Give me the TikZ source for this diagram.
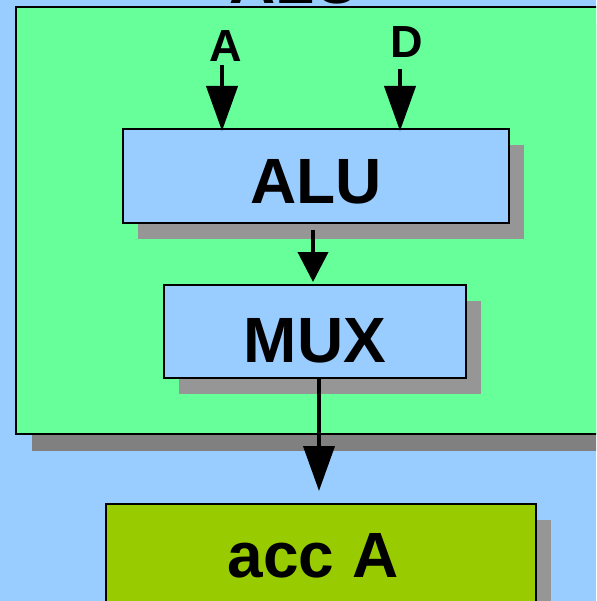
\documentclass[tikz,border=0pt]{standalone}
\usepackage{fontspec}
\setmainfont{Liberation Sans}
\usetikzlibrary{arrows.meta,shadows}
\definecolor{bgblue}{HTML}{99CCFF}
\definecolor{grpgreen}{HTML}{66FF99}
\definecolor{accgreen}{HTML}{99CC00}
\definecolor{shadowA}{HTML}{969696}
\definecolor{shadowB}{HTML}{808080}
\begin{document}
\begin{tikzpicture}[x=1pt,y=-1pt,
  box/.style={draw=black,line width=2pt,inner xsep=0pt,inner ysep=0pt,anchor=base,
    font=\fontsize{64}{70}\selectfont\bfseries},
  blockshadow/.style={general shadow={shadow xshift=15pt,shadow yshift=-16pt,fill=shadowA}},
  flow/.style={line width=4pt,-{Triangle[length=45pt,width=31pt]}},
  shortflow/.style={line width=4pt,-{Triangle[length=30pt,width=30pt]}},
  sig/.style={font=\fontsize{45}{50}\selectfont\bfseries,inner sep=3pt,anchor=base},
  titletext/.style={font=\fontsize{64}{70}\selectfont\bfseries,anchor=base,inner sep=0pt}]
\useasboundingbox (0,0) rectangle (596,601);
\clip (0,0) rectangle (596,601);
\fill[bgblue] (0,0) rectangle (596,601);
% group box
\node[draw=black,line width=2pt,fill=grpgreen,inner sep=0pt,
  minimum width=604pt,minimum height=427pt,
  general shadow={shadow xshift=16pt,shadow yshift=-17pt,fill=shadowB}] (grp) at (318,220.5) {};
\node[titletext] (title) at (295,4) {ALU};
% blocks
\node[box,fill=bgblue,blockshadow,minimum width=386pt,text height=75pt,text depth=19pt] (alu) at (316,204) {ALU};
\node[box,fill=bgblue,blockshadow,minimum width=302pt,text height=77pt,text depth=16pt] (mux) at (315,362) {MUX};
\node[box,fill=accgreen,blockshadow,minimum width=430pt,text height=73pt,text depth=110pt] (acc) at (321,577) {\hspace*{-16pt}acc A};
% inputs
\node[sig] (lblA) at (226,62) {A};
\node[sig] (lblD) at (407,58) {D};
\coordinate (ina) at (222,65);
\coordinate (ind) at (400,69);
% connectors
\draw[flow,shorten >=-3pt] (ina) -- (ina |- alu.north);
\draw[flow,shorten >=-3pt] (ind) -- (ind |- alu.north);
\draw[shortflow,shorten <=6pt,shorten >=2pt] ([xshift=-3pt]alu.south) -- ([xshift=-2pt]mux.north);
\draw[flow,shorten >=12pt] ([xshift=4pt]mux.south) -- ([xshift=-2pt]acc.north);
\end{tikzpicture}
\end{document}
